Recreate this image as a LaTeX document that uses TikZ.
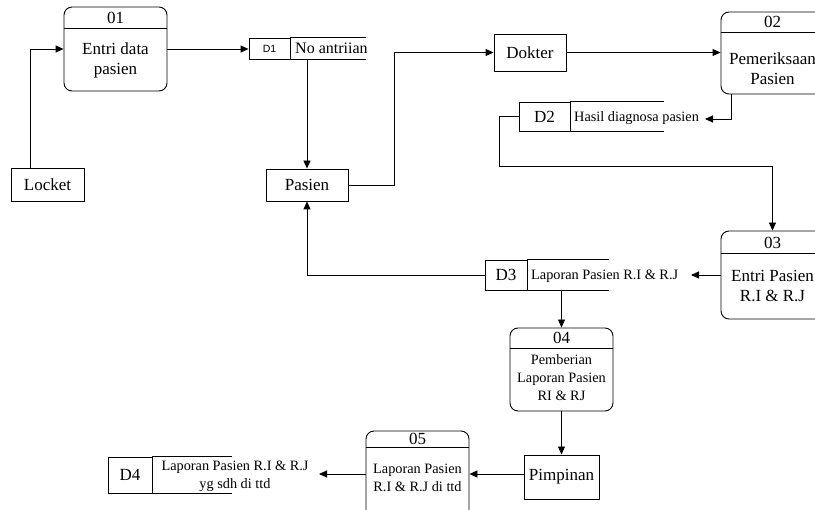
\documentclass[tikz,border=0pt]{standalone}
\usepackage{fontspec}
\setmainfont{Liberation Serif}
\newfontfamily\arialfont{Liberation Sans}
\usetikzlibrary{arrows.meta}
\newcommand\fbig{\fontsize{17}{20}\selectfont}
\newcommand\fsmall{\fontsize{14.3}{18}\selectfont}
\tikzset{
  ln/.style={line width=0.9pt},
  arr/.style={ln, -{Triangle[length=8pt,width=7pt]}},
  proc/.style={draw, ln, rounded corners=8pt, inner sep=0pt, minimum width=103pt},
  ent/.style={draw, ln, inner sep=0pt, font=\fbig},
  cell/.style={draw, ln, inner sep=0pt},
  lbl/.style={inner sep=0pt},
}
\begin{document}
\begin{tikzpicture}[x=1pt,y=-1pt]
\clip (0,0) rectangle (815,510);
% external entities
\node[ent, minimum width=73pt, minimum height=33pt] (locket) at (47.5,184.5) {Locket};
\node[ent, minimum width=82pt, minimum height=32pt] (pasien) at (307,185) {Pasien};
\node[ent, minimum width=72pt, minimum height=37pt] (dokter) at (530,52.5) {Dokter};
\node[ent, minimum width=75pt, minimum height=44pt] (pimpinan) at (561.5,477) {Pimpinan};
% processes
\node[proc, minimum height=84pt] (p1) at (115.5,49) {};
\draw[ln] (p1.west |- 0,28) -- (p1.east |- 0,28);
\node[lbl, font=\fbig] (p1n) at (115.5,18) {01};
\node[lbl, font=\fbig, align=center] (p1t) at (115.5,60) {Entri data\\pasien};

\node[proc, minimum height=82pt] (p2) at (772.5,53) {};
\draw[ln] (p2.west |- 0,32) -- (p2.east |- 0,32);
\node[lbl, font=\fbig] (p2n) at (772.5,22) {02};
\node[lbl, font=\fbig, align=center] (p2t) at (772.5,69) {Pemeriksaan\\Pasien};

\node[proc, minimum height=88pt] (p3) at (772.5,275) {};
\draw[ln] (p3.west |- 0,253) -- (p3.east |- 0,253);
\node[lbl, font=\fbig] (p3n) at (772.5,243) {03};
\node[lbl, font=\fbig, align=center] (p3t) at (772.5,286) {Entri Pasien\\R.I \& R.J};

\node[proc, minimum height=83pt] (p4) at (561.5,369.5) {};
\draw[ln] (p4.west |- 0,348) -- (p4.east |- 0,348);
\node[lbl, font=\fbig] (p4n) at (561.5,338) {04};
\node[lbl, font=\fsmall, align=center] (p4t) at (561.5,378) {Pemberian\\Laporan Pasien\\RI \& RJ};

\node[proc, minimum height=98pt] (p5) at (417.5,480) {};
\draw[ln] (p5.west |- 0,447) -- (p5.east |- 0,447);
\node[lbl, font=\fbig] (p5n) at (417.5,439) {05};
\node[lbl, font=\fsmall, align=center] (p5t) at (417.5,477.5) {Laporan Pasien\\R.I \& R.J di ttd};
% data stores
\node[cell, minimum width=41pt, minimum height=21pt, font=\arialfont\fontsize{10.5}{12}\selectfont] (d1) at (269.5,48.5) {D1};
\draw[ln] (d1.north east) -- ++(76,0) (d1.south east) -- ++(76,0);
\node[lbl, font=\fontsize{16}{19}\selectfont, anchor=west] (d1t) at (295,48.5) {No antriian};

\node[cell, minimum width=51pt, minimum height=29pt, font=\fbig] (d2) at (544.5,116.5) {D2};
\draw[ln] (d2.north east) -- ++(94,0) (d2.south east) -- ++(94,0);
\node[lbl, font=\fsmall, anchor=west] (d2t) at (574,118) {Hasil diagnosa pasien};

\node[cell, minimum width=42pt, minimum height=30pt, font=\fbig] (d3) at (506,275) {D3};
\draw[ln] (d3.north east) -- ++(82,0) (d3.south east) -- ++(82,0);
\node[lbl, font=\fsmall, anchor=west] (d3t) at (531,276) {Laporan Pasien R.I \& R.J};

\node[cell, minimum width=44pt, minimum height=36pt, font=\fbig] (d4) at (130,475) {D4};
\draw[ln] (d4.north east) -- ++(80,0) (d4.south east) -- ++(80,0);
\node[lbl, font=\fsmall, align=center] (d4t) at (235,476) {Laporan Pasien R.I \& R.J\\yg sdh di ttd};
% connectors
\coordinate (d2in) at (705,119);
\coordinate (d3in) at (691,275);
\coordinate (d4in) at (319,474);
\draw[arr] ([xshift=20pt]locket.north west) |- (p1.west);
\draw[arr] (p1.east) -- (p1.east -| d1.west);
\draw[arr] (pasien.north |- d1.south) -- (pasien.north);
\draw[arr] (pasien.east) -- ++(46,0) |- (dokter.west);
\draw[arr] (dokter.east) -- (dokter.east -| p2.west);
\draw[arr] ([xshift=11pt]p2.south west) |- (d2in);
\draw[arr] (d2.west) -- ++(-19,0) -- ++(0,49.5) -| (p3.north);
\draw[arr] (p3.west) -- (d3in);
\draw[arr] (d3.west) -| (pasien.south);
\draw[arr] (p4.north |- d3.south) -- (p4.north);
\draw[arr] (p4.south) -- (pimpinan.north);
\draw[arr] ([yshift=3pt]pimpinan.west) -- ([yshift=3pt]pimpinan.west -| p5.east);
\draw[arr] ([yshift=6pt]p5.west) -- (d4in);
\end{tikzpicture}
\end{document}
